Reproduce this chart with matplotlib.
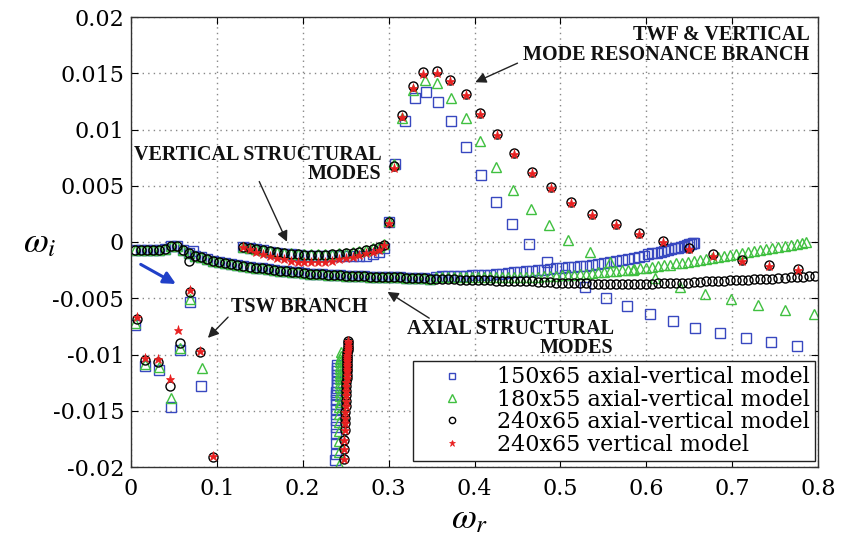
import numpy as np
import matplotlib
matplotlib.use("Agg")
import matplotlib.pyplot as plt

plt.rcParams['mathtext.fontset'] = 'stix'
plt.rcParams['font.family'] = ['DejaVu Serif']

# ---------------- data (y in units of 1e-3) ----------------
# lower "axial structural modes" band, shared part
band_x = [0.005, 0.012, 0.019, 0.026, 0.033, 0.040, 0.047, 0.054, 0.061, 0.068,
          0.075, 0.082, 0.089, 0.096, 0.103, 0.110, 0.117, 0.124, 0.131, 0.138,
          0.145, 0.152, 0.159, 0.166, 0.173, 0.180, 0.187, 0.194, 0.201, 0.208,
          0.215, 0.222, 0.229, 0.236, 0.243, 0.250, 0.257, 0.264, 0.271, 0.278,
          0.285, 0.292, 0.299, 0.306, 0.313, 0.320, 0.327, 0.334, 0.341, 0.348]
band_y = [-0.75, -0.75, -0.75, -0.75, -0.72, -0.65, -0.35, -0.35, -0.7, -1.0,
          -1.2, -1.35, -1.5, -1.65, -1.75, -1.85, -1.95, -2.05, -2.15, -2.2,
          -2.3, -2.35, -2.4, -2.5, -2.55, -2.6, -2.65, -2.7, -2.75, -2.8,
          -2.85, -2.85, -2.9, -2.95, -2.95, -3.0, -3.0, -3.05, -3.05, -3.1,
          -3.1, -3.1, -3.15, -3.15, -3.15, -3.2, -3.2, -3.2, -3.2, -3.25]

# lower band tails per model
circ_tail_x = [0.355, 0.362, 0.369, 0.376, 0.383, 0.390, 0.397, 0.404, 0.411, 0.418,
               0.425, 0.432, 0.439, 0.446, 0.453, 0.460, 0.467, 0.474, 0.481, 0.488,
               0.495, 0.502, 0.509, 0.516, 0.523, 0.530, 0.537, 0.544, 0.551, 0.558,
               0.565, 0.572, 0.579, 0.586, 0.593, 0.600, 0.607, 0.614, 0.621, 0.628,
               0.635, 0.642, 0.649, 0.656, 0.663, 0.670, 0.677, 0.684, 0.691, 0.698,
               0.705, 0.712, 0.719, 0.726, 0.733, 0.740, 0.747, 0.754, 0.761, 0.768,
               0.775, 0.782, 0.789, 0.796]
circ_tail_y = [-3.25, -3.3, -3.3, -3.3, -3.35, -3.35, -3.35, -3.4, -3.4, -3.4,
               -3.45, -3.45, -3.45, -3.5, -3.5, -3.5, -3.5, -3.55, -3.55, -3.55,
               -3.6, -3.6, -3.6, -3.65, -3.65, -3.65, -3.7, -3.7, -3.7, -3.7,
               -3.7, -3.7, -3.7, -3.7, -3.7, -3.7, -3.7, -3.65, -3.65, -3.65,
               -3.6, -3.6, -3.6, -3.55, -3.55, -3.5, -3.5, -3.45, -3.45, -3.4,
               -3.4, -3.35, -3.35, -3.3, -3.3, -3.25, -3.25, -3.2, -3.2, -3.15,
               -3.1, -3.1, -3.05, -3.0]

sq_tail_x = [0.355, 0.362, 0.369, 0.376, 0.383, 0.390, 0.397, 0.404, 0.411, 0.418,
             0.425, 0.432, 0.439, 0.446, 0.453, 0.460, 0.467, 0.474, 0.481, 0.488,
             0.495, 0.502, 0.509, 0.516, 0.523, 0.530, 0.537, 0.544, 0.551, 0.558,
             0.565, 0.572, 0.579, 0.586, 0.592, 0.597, 0.602, 0.607, 0.612, 0.617,
             0.621, 0.625, 0.629, 0.633, 0.637, 0.641, 0.644, 0.647, 0.650, 0.652,
             0.654, 0.656]
sq_tail_y = [-3.1, -3.05, -3.05, -3.0, -3.0, -3.0, -2.95, -2.95, -2.9, -2.9,
             -2.85, -2.8, -2.75, -2.7, -2.65, -2.6, -2.55, -2.5, -2.45, -2.4,
             -2.35, -2.3, -2.25, -2.2, -2.15, -2.1, -2.0, -1.95, -1.9, -1.8,
             -1.7, -1.6, -1.5, -1.4, -1.3, -1.2, -1.1, -1.0, -0.95, -0.85,
             -0.8, -0.7, -0.65, -0.55, -0.5, -0.4, -0.35, -0.3, -0.2, -0.15,
             -0.1, -0.05]

tri_tail_x = [0.355, 0.362, 0.369, 0.376, 0.383, 0.390, 0.397, 0.404, 0.411, 0.418,
              0.425, 0.432, 0.439, 0.446, 0.453, 0.460, 0.467, 0.474, 0.481, 0.488,
              0.495, 0.502, 0.509, 0.516, 0.523, 0.530, 0.537, 0.544, 0.551, 0.558,
              0.565, 0.572, 0.579, 0.586, 0.593, 0.600, 0.607, 0.614, 0.621, 0.628,
              0.635, 0.642, 0.649, 0.656, 0.663, 0.670, 0.677, 0.684, 0.691, 0.698,
              0.705, 0.712, 0.719, 0.726, 0.733, 0.740, 0.747, 0.754, 0.761, 0.768,
              0.775, 0.781, 0.786]
tri_tail_y = [-3.1, -3.1, -3.1, -3.1, -3.1, -3.1, -3.1, -3.1, -3.1, -3.1,
              -3.1, -3.1, -3.1, -3.1, -3.1, -3.1, -3.1, -3.1, -3.05, -3.0,
              -3.0, -2.95, -2.9, -2.9, -2.85, -2.8, -2.75, -2.7, -2.65, -2.6,
              -2.55, -2.5, -2.45, -2.4, -2.35, -2.3, -2.2, -2.15, -2.05, -2.0,
              -1.9, -1.85, -1.75, -1.7, -1.6, -1.5, -1.45, -1.35, -1.25, -1.15,
              -1.05, -0.95, -0.9, -0.8, -0.7, -0.6, -0.5, -0.45, -0.35, -0.25,
              -0.15, -0.1, 0.0]

# upper "vertical structural modes" band
up_x = [0.130, 0.138, 0.146, 0.154, 0.162, 0.170, 0.178, 0.186, 0.194, 0.202, 0.210,
        0.218, 0.226, 0.234, 0.242, 0.250, 0.258, 0.266, 0.274, 0.282, 0.289, 0.295]
up_circ = [-0.4, -0.5, -0.6, -0.7, -0.8, -0.9, -1.0, -1.05, -1.1, -1.15, -1.15,
           -1.15, -1.15, -1.1, -1.05, -1.0, -0.95, -0.85, -0.75, -0.6, -0.45, -0.25]
up_star = [-0.45, -0.65, -0.85, -1.05, -1.25, -1.4, -1.55, -1.65, -1.75, -1.8, -1.8,
           -1.8, -1.75, -1.65, -1.55, -1.45, -1.3, -1.15, -1.0, -0.9, -0.7, -0.3]
up_sq = [-0.4, -0.55, -0.65, -0.75, -0.85, -0.95, -1.05, -1.1, -1.15, -1.2, -1.25,
         -1.25, -1.25, -1.25, -1.25, -1.25, -1.25, -1.25, -1.2, -1.1, -0.9, -0.5]
up_tri = [-0.4, -0.5, -0.6, -0.7, -0.8, -0.9, -0.95, -1.0, -1.05, -1.1, -1.1,
          -1.1, -1.1, -1.05, -1.0, -0.95, -0.9, -0.8, -0.7, -0.55, -0.4, -0.2]

# TWF & vertical mode resonance branch
pk_circ_x = [0.300, 0.306, 0.315, 0.328, 0.340, 0.356, 0.371, 0.390, 0.406, 0.426, 0.446, 0.467,
             0.489, 0.512, 0.537, 0.565, 0.591, 0.619, 0.650, 0.678, 0.711, 0.743, 0.777]
pk_circ_y = [1.8, 6.8, 11.3, 13.9, 15.1, 15.2, 14.4, 13.2, 11.5, 9.6, 7.9, 6.2,
             4.9, 3.6, 2.5, 1.6, 0.8, 0.1, -0.5, -1.1, -1.6, -2.0, -2.4]
pk_star_y = [1.7, 6.6, 11.1, 13.7, 14.9, 15.0, 14.3, 13.1, 11.4, 9.5, 7.8, 6.1,
             4.8, 3.5, 2.4, 1.5, 0.7, 0.0, -0.6, -1.2, -1.7, -2.1, -2.5]
pk_sq_x = [0.300, 0.307, 0.319, 0.331, 0.343, 0.358, 0.373, 0.390, 0.408, 0.425, 0.444, 0.463,
           0.484, 0.505, 0.529, 0.553, 0.578, 0.604, 0.631, 0.657, 0.686, 0.716, 0.745, 0.775]
pk_sq_y = [1.8, 6.9, 10.8, 12.8, 13.3, 12.4, 10.8, 8.45, 6.0, 3.6, 1.6, -0.2,
           -1.75, -2.9, -4.0, -5.0, -5.7, -6.4, -7.0, -7.6, -8.1, -8.5, -8.9, -9.2]
pk_tri_x = [0.300, 0.306, 0.316, 0.328, 0.342, 0.356, 0.373, 0.390, 0.406, 0.425, 0.445, 0.466,
            0.487, 0.509, 0.534, 0.558, 0.585, 0.610, 0.639, 0.668, 0.699, 0.730, 0.762, 0.795]
pk_tri_y = [1.9, 6.9, 11.0, 13.5, 14.4, 14.1, 12.8, 11.0, 9.0, 6.7, 4.6, 2.9,
            1.5, 0.2, -0.86, -1.75, -2.5, -3.2, -4.0, -4.6, -5.1, -5.6, -6.0, -6.4]

# TSW branch and stray low-frequency modes
tsw_circ_x = [0.0066, 0.068, 0.069, 0.057, 0.080, 0.016, 0.032, 0.045, 0.096]
tsw_circ_y = [-6.8, -1.65, -4.4, -9.0, -9.8, -10.5, -10.7, -12.8, -19.1]
tsw_star_x = [0.0066, 0.069, 0.055, 0.080, 0.016, 0.032, 0.045, 0.096]
tsw_star_y = [-6.7, -4.3, -7.8, -9.7, -10.3, -10.4, -12.2, -19.0]
tsw_sq_x = [0.0047, 0.072, 0.069, 0.057, 0.082, 0.016, 0.033, 0.047]
tsw_sq_y = [-7.4, -0.8, -5.3, -9.6, -12.8, -11.0, -11.4, -14.7]
tsw_tri_x = [0.0047, 0.069, 0.057, 0.083, 0.016, 0.033, 0.046]
tsw_tri_y = [-7.2, -5.1, -9.4, -11.2, -10.8, -11.1, -13.9]

# column of modes near omega_r = 0.25
col_circ_x = [0.2525, 0.2525, 0.2524, 0.2523, 0.2522, 0.2521, 0.2520, 0.2520, 0.2519, 0.2518,
              0.2517, 0.2516, 0.2515, 0.2513, 0.2511, 0.2510, 0.2508, 0.2506, 0.2504, 0.2502,
              0.2500, 0.2498, 0.2495, 0.2492, 0.2490, 0.2487, 0.2483, 0.2480, 0.2477]
col_circ_y = [-8.8, -9.0, -9.2, -9.4, -9.6, -9.8, -10.0, -10.2, -10.4, -10.6,
              -10.8, -11.0, -11.25, -11.5, -11.8, -12.1, -12.45, -12.8, -13.2, -13.6,
              -14.1, -14.6, -15.1, -15.6, -16.1, -16.7, -17.6, -18.4, -19.3]
col_sq_x = [0.2400, 0.2400, 0.2399, 0.2398, 0.2397, 0.2396, 0.2395, 0.2394, 0.2393, 0.2392,
            0.2391, 0.2390, 0.2389, 0.2388, 0.2387, 0.2386, 0.2385, 0.2384, 0.2382, 0.2380]
col_sq_y = [-10.9, -11.2, -11.5, -11.8, -12.1, -12.4, -12.7, -13.0, -13.3, -13.6,
            -14.0, -14.4, -14.8, -15.3, -15.8, -16.4, -17.1, -17.9, -18.8, -19.4]
col_tri_x = [0.2440, 0.2440, 0.2439, 0.2438, 0.2437, 0.2436, 0.2435, 0.2434, 0.2433, 0.2432,
             0.2431, 0.2430, 0.2429, 0.2428, 0.2427, 0.2426, 0.2425, 0.2424, 0.2423, 0.2422, 0.2420]
col_tri_y = [-9.8, -10.1, -10.4, -10.7, -11.0, -11.3, -11.6, -11.9, -12.2, -12.5,
             -12.9, -13.3, -13.7, -14.2, -14.7, -15.3, -16.0, -16.8, -17.7, -18.7, -19.8]

labels = ["150x65 axial-vertical model", "180x55 axial-vertical model",
          "240x65 axial-vertical model", "240x65 vertical model"]
xticks = [0, 0.1, 0.2, 0.3, 0.4, 0.5, 0.6, 0.7, 0.8]
xticklabels = ["0", "0.1", "0.2", "0.3", "0.4", "0.5", "0.6", "0.7", "0.8"]
yticks = [0.02, 0.015, 0.01, 0.005, 0, -0.005, -0.01, -0.015, -0.02]
yticklabels = ["0.02", "0.015", "0.01", "0.005", "0", "-0.005", "-0.01", "-0.015", "-0.02"]

# ---------------- assemble series ----------------
S = 1e-3
sq_x = np.concatenate([band_x, sq_tail_x, up_x, pk_sq_x, tsw_sq_x, col_sq_x])
sq_y = np.concatenate([band_y, sq_tail_y, up_sq, pk_sq_y, tsw_sq_y, col_sq_y]) * S
tri_x = np.concatenate([band_x, tri_tail_x, up_x, pk_tri_x, tsw_tri_x, col_tri_x])
tri_y = np.concatenate([band_y, tri_tail_y, up_tri, pk_tri_y, tsw_tri_y, col_tri_y]) * S
ci_x = np.concatenate([band_x, circ_tail_x, up_x, pk_circ_x, tsw_circ_x, col_circ_x])
ci_y = np.concatenate([band_y, circ_tail_y, up_circ, pk_circ_y, tsw_circ_y, col_circ_y]) * S
st_x = np.concatenate([up_x, pk_circ_x, tsw_star_x, col_circ_x])
st_y = np.concatenate([up_star, pk_star_y, tsw_star_y, col_circ_y]) * S

# ---------------- figure ----------------
fig = plt.figure(figsize=(8.41, 5.36), dpi=100)
ax = fig.add_axes([131/841, 1-467/536, 687/841, 450/536])

blue = '#3848c0'
green = '#40c040'
red = '#e82020'

ax.plot(sq_x, sq_y, linestyle='none', marker='s', ms=7, mfc='none', mec=blue, mew=1.0,
        label=labels[0])
ax.plot(tri_x, tri_y, linestyle='none', marker='^', ms=7.5, mfc='none', mec=green, mew=1.0,
        label=labels[1])
ax.plot(ci_x, ci_y, linestyle='none', marker='o', ms=6.5, mfc='none', mec='black', mew=1.0,
        label=labels[2])
ax.plot(st_x, st_y, linestyle='none', marker='*', ms=6.5, mfc=red, mec=red, mew=0.5,
        label=labels[3])

ax.set_xlim(0, 0.8)
ax.set_ylim(-0.02, 0.02)
ax.set_xticks(xticks)
ax.set_xticklabels(xticklabels)
ax.set_yticks(yticks)
ax.set_yticklabels(yticklabels)
ax.tick_params(direction='in', top=True, right=True, labelsize=16, length=5)
ax.tick_params(axis='y', pad=5)
ax.tick_params(axis='x', pad=8)
ax.grid(True, linestyle=(0, (1, 3)), color='#888888', linewidth=1.0)
for sp in ax.spines.values():
    sp.set_color('#333333')
    sp.set_linewidth(1.0)

ax.set_ylabel(r'$\omega_i$', fontsize=26, rotation=0, va='center')
ax.yaxis.set_label_coords(-0.1325, 0.50)
ax.set_xlabel(r'$\omega_r$', fontsize=26, va='center')
ax.xaxis.set_label_coords(0.493, -0.113)

leg = ax.legend(loc='lower right', bbox_to_anchor=(0.999, 0.008), fontsize=16,
                frameon=True, fancybox=False, edgecolor='#222222', framealpha=1,
                markerscale=0.7, handletextpad=0.5, labelspacing=0.02,
                borderpad=0.25, handlelength=3.0, borderaxespad=0.1)
leg.get_frame().set_linewidth(1.0)

tfont = dict(family='Liberation Serif', fontweight='bold', fontsize=14.5, color='#111111')
arw = dict(arrowstyle='-|>', color='#222222', lw=1.0, mutation_scale=16)

ax.text(0.790, 0.0175, "TWF & VERTICAL\nMODE RESONANCE BRANCH", ha='right', va='center',
        linespacing=0.95, **tfont)
ax.annotate("", xy=(0.398, 0.0141), xytext=(0.453, 0.0160), arrowprops=arw)

ax.text(0.292, 0.0069, "VERTICAL STRUCTURAL\nMODES", ha='right', va='center',
        linespacing=0.95, **tfont)
ax.annotate("", xy=(0.183, -0.0002), xytext=(0.148, 0.0056), arrowprops=arw)

ax.text(0.116, -0.0058, "TSW BRANCH", ha='left', va='center', **tfont)
ax.annotate("", xy=(0.0873, -0.0087), xytext=(0.1153, -0.0065), arrowprops=arw)

ax.text(0.562, -0.0086, "AXIAL STRUCTURAL\nMODES", ha='right', va='center',
        linespacing=0.95, **tfont)
ax.annotate("", xy=(0.296, -0.0043), xytext=(0.350, -0.0069), arrowprops=arw)

ax.annotate("", xy=(0.0551, -0.00385), xytext=(0.0085, -0.00187),
            arrowprops=dict(arrowstyle='-|>', color='#2040c8', lw=2.2, mutation_scale=18))

fig.savefig("out.png", dpi=100)
